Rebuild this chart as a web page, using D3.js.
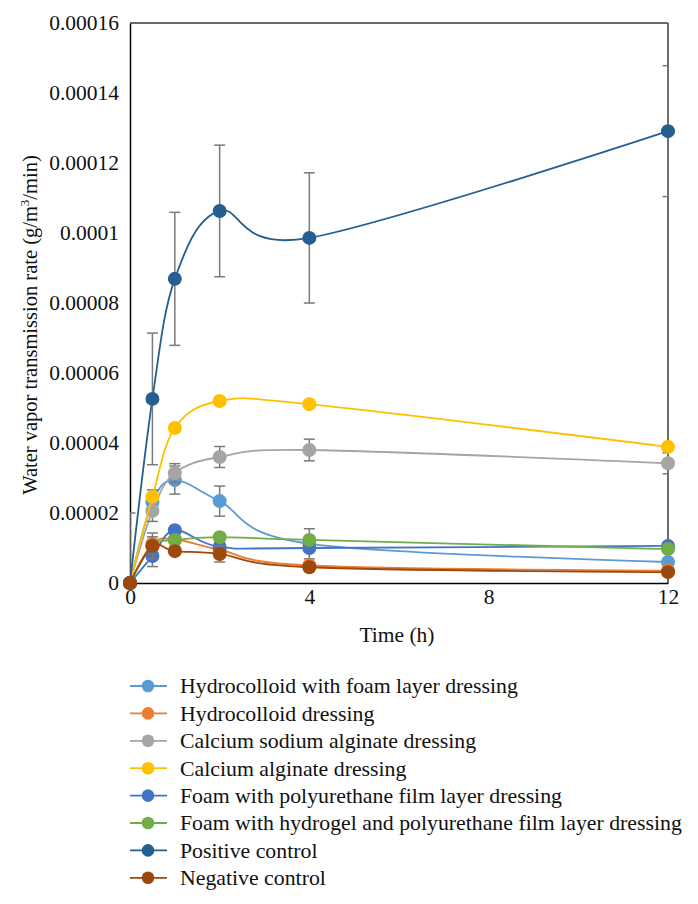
<!DOCTYPE html>
<html>
<head>
<meta charset="utf-8">
<script src="https://cdn.jsdelivr.net/npm/d3@7"></script>
<style>
  html, body { margin: 0; padding: 0; background: #fff; }
  svg { display: block; }
  text { font-family: "Liberation Serif", "DejaVu Serif", serif; fill: #111; }
</style>
</head>
<body>
<svg id="chart" width="698" height="904"></svg>
<script>
// ---- data ----
const times = [0, 0.5, 1, 2, 4, 12];
const xTicks = [0, 4, 8, 12];
const yTicks = [0, 0.00002, 0.00004, 0.00006, 0.00008, 0.0001, 0.00012, 0.00014, 0.00016];

const seriesNames = [
  "Hydrocolloid with foam layer dressing",
  "Hydrocolloid dressing",
  "Calcium sodium alginate dressing",
  "Calcium alginate dressing",
  "Foam with polyurethane film layer dressing",
  "Foam with hydrogel and polyurethane film layer dressing",
  "Positive control",
  "Negative control"
];
const seriesColors = ["#5B9BD5", "#ED7D31", "#A5A5A5", "#FFC000", "#4472C4", "#70AD47", "#255E91", "#9E480E"];

const hydrocolloidFoam    = [0, 2.31e-5, 2.94e-5, 2.34e-5, 1.12e-5, 0.60e-5];
const hydrocolloidFoamErr = [2.0e-5, 0.35e-5, 0.40e-5, 0.43e-5, 0.43e-5, 0.05e-5];
const hydrocolloid        = [0, 1.12e-5, 1.25e-5, 0.95e-5, 0.50e-5, 0.35e-5];
const hydrocolloidErr     = [0, 0.20e-5, 0.20e-5, 0.20e-5, 0.10e-5, 0.05e-5];
const calciumSodium       = [0, 2.06e-5, 3.14e-5, 3.60e-5, 3.80e-5, 3.42e-5];
const calciumSodiumErr    = [0, 0.30e-5, 0.27e-5, 0.30e-5, 0.31e-5, 0.30e-5];
const calcium             = [0, 2.46e-5, 4.43e-5, 5.20e-5, 5.11e-5, 3.89e-5];
const calciumErr          = [0, 0.10e-5, 0.10e-5, 0.10e-5, 0.10e-5, 0.10e-5];
const foamPU              = [0, 0.77e-5, 1.51e-5, 1.03e-5, 1.00e-5, 1.06e-5];
const foamPUErr           = [0, 0.30e-5, 0.10e-5, 0.10e-5, 0.10e-5, 0.05e-5];
const foamHydrogel        = [0, 1.06e-5, 1.23e-5, 1.31e-5, 1.23e-5, 0.97e-5];
const foamHydrogelErr     = [0, 0.10e-5, 0.10e-5, 0.10e-5, 0.10e-5, 0.05e-5];
const positive            = [0, 5.26e-5, 8.69e-5, 10.63e-5, 9.86e-5, 12.91e-5];
const positiveErr         = [0, 1.88e-5, 1.90e-5, 1.88e-5, 1.86e-5, 1.87e-5];
const negative            = [0, 1.06e-5, 0.91e-5, 0.83e-5, 0.45e-5, 0.31e-5];
const negativeErr         = [0, 0.37e-5, 0.10e-5, 0.23e-5, 0.10e-5, 0.05e-5];

const seriesValues = [hydrocolloidFoam, hydrocolloid, calciumSodium, calcium, foamPU, foamHydrogel, positive, negative];
const seriesErrors = [hydrocolloidFoamErr, hydrocolloidErr, calciumSodiumErr, calciumErr, foamPUErr, foamHydrogelErr, positiveErr, negativeErr];

// ---- layout ----
const svg = d3.select("#chart");
const plot = { left: 130, right: 668, top: 23, bottom: 583 };

const x = d3.scaleLinear().domain([0, 12]).range([plot.left, plot.right]);
const y = d3.scaleLinear().domain([0, 0.00016]).range([plot.bottom, plot.top]);

const series = seriesNames.map((name, i) => ({
  name, color: seriesColors[i],
  points: times.map((t, j) => ({ t, v: seriesValues[i][j], e: seriesErrors[i][j] }))
}));

svg.append("defs").append("clipPath").attr("id", "plotClip")
  .append("rect")
  .attr("x", plot.left).attr("y", plot.top)
  .attr("width", plot.right - plot.left).attr("height", plot.bottom - plot.top);

// frame (top & right)
svg.append("line").attr("x1", plot.left).attr("x2", plot.right).attr("y1", plot.top).attr("y2", plot.top)
  .attr("stroke", "#3a3a3a").attr("stroke-width", 1.5);
svg.append("line").attr("x1", plot.right).attr("x2", plot.right).attr("y1", plot.top).attr("y2", plot.bottom)
  .attr("stroke", "#3a3a3a").attr("stroke-width", 1.5);

// axes
const fmt = d => d === 0 ? "0" : d.toFixed(5).replace(/0+$/, "");
const yAxis = svg.append("g").attr("transform", `translate(${plot.left},0)`)
  .call(d3.axisLeft(y).tickValues(yTicks).tickFormat(fmt).tickSize(0).tickPadding(11));
const xAxis = svg.append("g").attr("transform", `translate(0,${plot.bottom})`)
  .call(d3.axisBottom(x).tickValues(xTicks).tickFormat(d3.format("d")).tickSize(0).tickPadding(6));
[yAxis, xAxis].forEach(g => {
  g.select(".domain").attr("stroke", "#000").attr("stroke-width", 1.5);
  g.selectAll("text").attr("font-size", 21.5).attr("font-family", '"Liberation Serif", serif').attr("fill", "#111");
});

// axis titles
svg.append("text").attr("x", (plot.left + plot.right) / 2 - 2).attr("y", 642)
  .attr("text-anchor", "middle").attr("font-size", 21.5).text("Time (h)");

const yt = svg.append("text")
  .attr("transform", `translate(37,325) rotate(-90)`)
  .attr("text-anchor", "middle").attr("font-size", 20.5);
yt.append("tspan").text("Water vapor transmission rate (g/m");
yt.append("tspan").attr("font-size", 13).attr("dy", -8).text("3");
yt.append("tspan").attr("dy", 8).text("/min)");

// series
const line = d3.line().x(d => x(d.t)).y(d => y(d.v)).curve(d3.curveCardinal.tension(0));
const gPlot = svg.append("g");
series.forEach(s => {
  const g = gPlot.append("g");
  g.append("path").datum(s.points).attr("d", line)
    .attr("fill", "none").attr("stroke", s.color).attr("stroke-width", 1.8);
  const eb = g.append("g").attr("clip-path", "url(#plotClip)")
    .attr("stroke", "#7a7a7a").attr("stroke-width", 1.5);
  s.points.filter(p => p.e > 0).forEach(p => {
    const cx = x(p.t), y1 = y(p.v + p.e), y0 = y(p.v - p.e);
    eb.append("line").attr("x1", cx).attr("x2", cx).attr("y1", y1).attr("y2", y0);
    eb.append("line").attr("x1", cx - 5.5).attr("x2", cx + 5.5).attr("y1", y1).attr("y2", y1);
    eb.append("line").attr("x1", cx - 5.5).attr("x2", cx + 5.5).attr("y1", y0).attr("y2", y0);
  });
  g.selectAll("circle").data(s.points).join("circle")
    .attr("cx", d => x(d.t)).attr("cy", d => y(d.v)).attr("r", 7)
    .attr("fill", s.color);
});

// legend
const legend = svg.append("g");
series.forEach((s, i) => {
  const ly = 686 + i * 27.4;
  legend.append("line").attr("x1", 130).attr("x2", 167).attr("y1", ly).attr("y2", ly)
    .attr("stroke", s.color).attr("stroke-width", 1.8);
  legend.append("circle").attr("cx", 148).attr("cy", ly).attr("r", 6.3).attr("fill", s.color);
  legend.append("text").attr("x", 180).attr("y", ly).attr("dy", "0.34em")
    .attr("font-size", 21.8).text(s.name);
});
</script>
</body>
</html>
